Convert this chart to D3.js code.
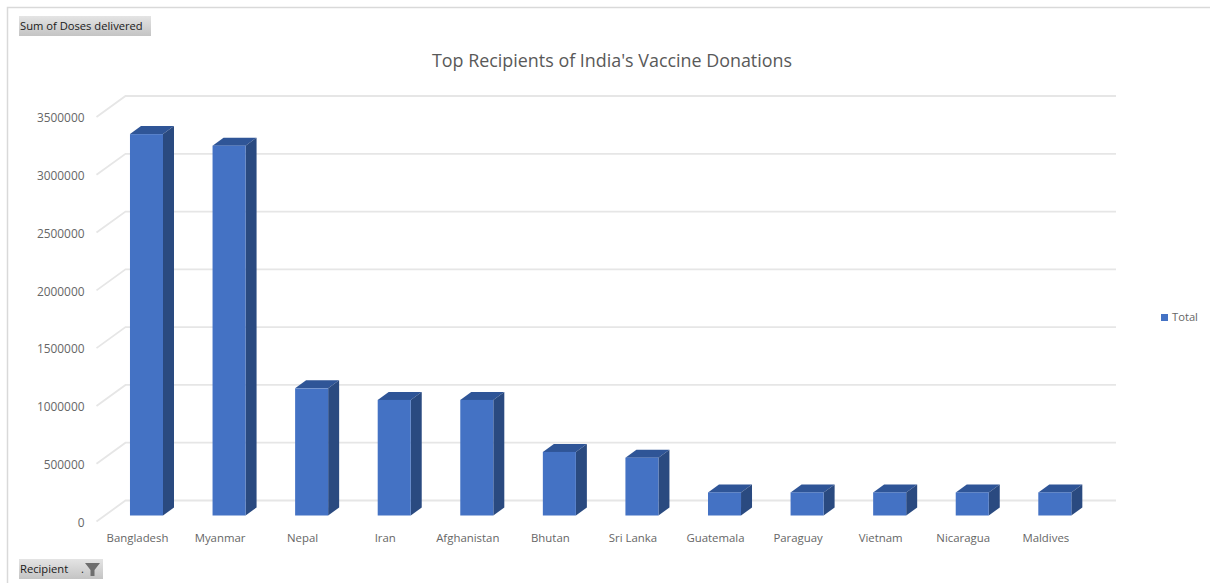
<!DOCTYPE html>
<html>
<head>
<meta charset="utf-8">
<script src="https://cdn.jsdelivr.net/npm/d3@7/dist/d3.min.js"></script>
<style>
html,body{margin:0;padding:0;background:#fff}
svg{display:block}
text{font-family:"Open Sans","Noto Sans",sans-serif}
</style>
</head>
<body>
<svg id="chart" width="1210" height="583"></svg>
<script>
const recipients = ["Bangladesh","Myanmar","Nepal","Iran","Afghanistan","Bhutan","Sri Lanka","Guatemala","Paraguay","Vietnam","Nicaragua","Maldives"];
const doses = [3300000,3200000,1100000,1000000,1000000,550000,500000,200000,200000,200000,200000,200000];
const valueTicks = [0,500000,1000000,1500000,2000000,2500000,3000000,3500000];
const chartTitle = "Top Recipients of India's Vaccine Donations";
const seriesName = "Total";

const svg = d3.select("#chart");

// Oblique projection: the back wall sits up and to the right of the front plane
const depth = {x: 11, y: -8};
const wallShift = {x: 29, y: -21};

const x = d3.scaleBand().domain(recipients).range([105.2, 1096.1]).paddingInner(0.6).paddingOuter(0.3);
const y = d3.scaleLinear().domain([0, 3500000]).range([515.5, 111]);

// Chart frame
svg.append("path").attr("d", "M7.5,583V7.5H1210").attr("fill", "none").attr("stroke", "#d9d9d9").attr("stroke-width", 1.5);

// Wall gridlines with their slanted floor edge
const grid = svg.append("g").attr("fill", "none").attr("stroke", "#e6e6e6").attr("stroke-width", 1.8);
valueTicks.forEach(t => {
  const y0 = y(t) + 6;
  grid.append("path").attr("d", `M96.5,${y0}L${96.5 + wallShift.x},${y0 + wallShift.y}H1116`);
});

// Value axis labels
svg.append("g").selectAll("text").data(valueTicks).join("text")
  .attr("x", 84.5).attr("y", d => y(d) + 7)
  .attr("dy", "0.35em").attr("text-anchor", "end")
  .attr("font-size", 11.9).attr("fill", "#666").text(d => d);

// Three-faced columns
const bars = svg.append("g").selectAll("g").data(recipients).join("g");
const bw = x.bandwidth();
bars.append("path").attr("fill", "#2f5597")
  .attr("d", (d, i) => {
    const l = x(d), t = y(doses[i]);
    return `M${l},${t}l${depth.x},${depth.y}h${bw}l${-depth.x},${-depth.y}z`;
  });
bars.append("path").attr("fill", "#2a4a80")
  .attr("d", (d, i) => {
    const r = x(d) + bw, t = y(doses[i]), b = y(0);
    return `M${r},${t}l${depth.x},${depth.y}V${b + depth.y}l${-depth.x},${-depth.y}z`;
  });
bars.append("rect").attr("fill", "#4472c4")
  .attr("x", d => x(d)).attr("width", bw)
  .attr("y", (d, i) => y(doses[i]))
  .attr("height", (d, i) => y(0) - y(doses[i]));

// Category labels
svg.append("g").selectAll("text").data(recipients).join("text")
  .attr("x", d => x(d) + bw / 2 - 9).attr("y", 538.5)
  .attr("dy", "0.35em").attr("text-anchor", "middle")
  .attr("font-size", 11.4).attr("fill", "#666").text(d => d);

// Title
svg.append("text").attr("x", 612).attr("y", 60.5).attr("dy", "0.35em")
  .attr("text-anchor", "middle").attr("font-size", 17.9).attr("fill", "#595959").text(chartTitle);

// Legend
svg.append("rect").attr("x", 1161).attr("y", 314).attr("width", 7).attr("height", 7).attr("fill", "#4472c4");
svg.append("text").attr("x", 1172).attr("y", 317.5).attr("dy", "0.35em")
  .attr("font-size", 11.2).attr("fill", "#666").text(seriesName);

// Pivot field buttons
const shade = svg.append("defs").append("linearGradient").attr("id", "fieldShade")
  .attr("x1", 0).attr("x2", 0).attr("y1", 0).attr("y2", 1);
shade.append("stop").attr("offset", 0).attr("stop-color", "#e4e4e4");
shade.append("stop").attr("offset", 1).attr("stop-color", "#c4c4c4");

svg.append("rect").attr("x", 19).attr("y", 16).attr("width", 132).attr("height", 20).attr("fill", "url(#fieldShade)");
svg.append("text").attr("x", 20).attr("y", 26.5).attr("dy", "0.35em")
  .attr("font-size", 11.2).attr("fill", "#1a1a1a").text("Sum of Doses delivered");

svg.append("rect").attr("x", 19).attr("y", 559).attr("width", 84).attr("height", 20).attr("fill", "url(#fieldShade)");
svg.append("text").attr("x", 20).attr("y", 569.5).attr("dy", "0.35em")
  .attr("font-size", 11.2).attr("fill", "#1a1a1a").text("Recipient");
svg.append("text").attr("x", 81).attr("y", 569.5).attr("dy", "0.35em")
  .attr("font-size", 11).attr("fill", "#1a1a1a").text(".");
svg.append("path").attr("d", "M85,563H100L94.5,570V576L90.5,576V570Z").attr("fill", "#6e6e6e");
</script>
</body>
</html>
